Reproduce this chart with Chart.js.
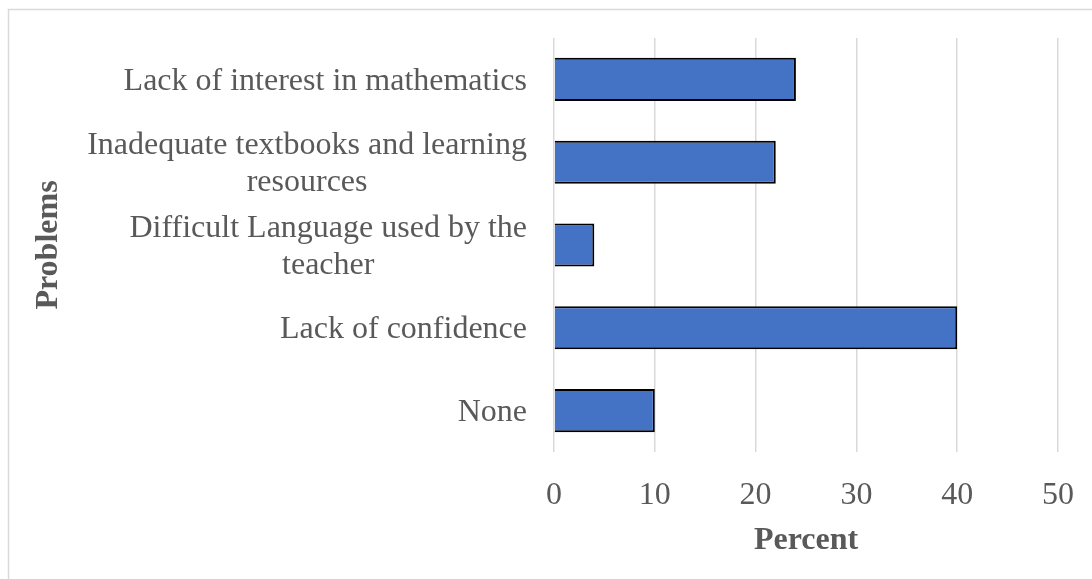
<!DOCTYPE html>
<html>
<head>
<meta charset="utf-8">
<script src="https://cdn.jsdelivr.net/npm/chart.js@4"></script>
<style>
  html, body { margin: 0; padding: 0; background: #fff; }
  #chart { display: block; }
</style>
</head>
<body>
<canvas id="chart" width="1092" height="579"></canvas>
<script>
// categories top to bottom, each one an array of text lines
const categories = [
  ["Lack of interest in mathematics"],
  ["Inadequate textbooks and learning", "resources"],
  ["Difficult Language used by the", "teacher"],
  ["Lack of confidence"],
  ["None"],
];
const percents = [24, 22, 4, 40, 10];
const xTicks = [0, 10, 20, 30, 40, 50];

const serif = "'Liberation Serif', 'Times New Roman', serif";
const grey = "#595959";

// category labels: block right aligned, lines centred inside the block
const categoryLabels = {
  id: "categoryLabels",
  afterDraw(chart) {
    const ctx = chart.ctx;
    const y = chart.scales.y;
    const right = chart.chartArea.left - 27;
    const lineH = 37;
    ctx.save();
    ctx.font = "32px " + serif;
    ctx.fillStyle = grey;
    ctx.textAlign = "center";
    ctx.textBaseline = "middle";
    categories.forEach((lines, i) => {
      const w = Math.max(...lines.map((l) => ctx.measureText(l).width));
      const cx = right - w / 2;
      const cy = y.getPixelForValue(i) + 2;
      const top = cy - ((lines.length - 1) * lineH) / 2;
      lines.forEach((l, j) => ctx.fillText(l, cx, top + j * lineH));
    });
    ctx.restore();
  },
};

// thin grey frame like the original chart area
const frame = {
  id: "frame",
  beforeDraw(chart) {
    const ctx = chart.ctx;
    ctx.save();
    ctx.strokeStyle = "#d9d9d9";
    ctx.lineWidth = 1.5;
    ctx.strokeRect(8.5, 9.5, 1200, 700);
    ctx.restore();
  },
};

new Chart(document.getElementById("chart"), {
  type: "bar",
  data: {
    labels: categories,
    datasets: [
      {
        data: percents,
        backgroundColor: "#4472c4",
        borderColor: "#000000",
        borderWidth: 2,
        barPercentage: 0.52,
        categoryPercentage: 1,
      },
    ],
  },
  options: {
    indexAxis: "y",
    responsive: false,
    animation: false,
    layout: { padding: { top: 38, right: 34, bottom: 0, left: 0 } },
    plugins: {
      legend: { display: false },
      tooltip: { enabled: false },
    },
    scales: {
      x: {
        min: 0,
        max: 50,
        afterBuildTicks: (scale) => {
          scale.ticks = xTicks.map((v) => ({ value: v }));
        },
        afterFit: (scale) => {
          scale.height = 579 - 452;
          scale.paddingLeft = 0;
          scale.paddingRight = 0;
        },
        grid: { color: "#d9d9d9", lineWidth: 1.5, drawTicks: false },
        border: { display: false },
        ticks: {
          padding: 24,
          color: grey,
          font: { family: serif, size: 32 },
        },
        title: {
          display: true,
          text: "Percent",
          color: grey,
          font: { family: serif, size: 32, weight: "bold" },
          padding: { top: 0, bottom: 19 },
        },
      },
      y: {
        afterFit: (scale) => {
          scale.width = 554;
          scale.paddingTop = 0;
          scale.paddingBottom = 0;
        },
        grid: { display: false },
        border: { display: false },
        ticks: { display: false },
        title: {
          display: true,
          text: "Problems",
          color: grey,
          font: { family: serif, size: 32, weight: "bold" },
          padding: { top: 30, bottom: 0 },
        },
      },
    },
  },
  plugins: [frame, categoryLabels],
});
</script>
</body>
</html>
